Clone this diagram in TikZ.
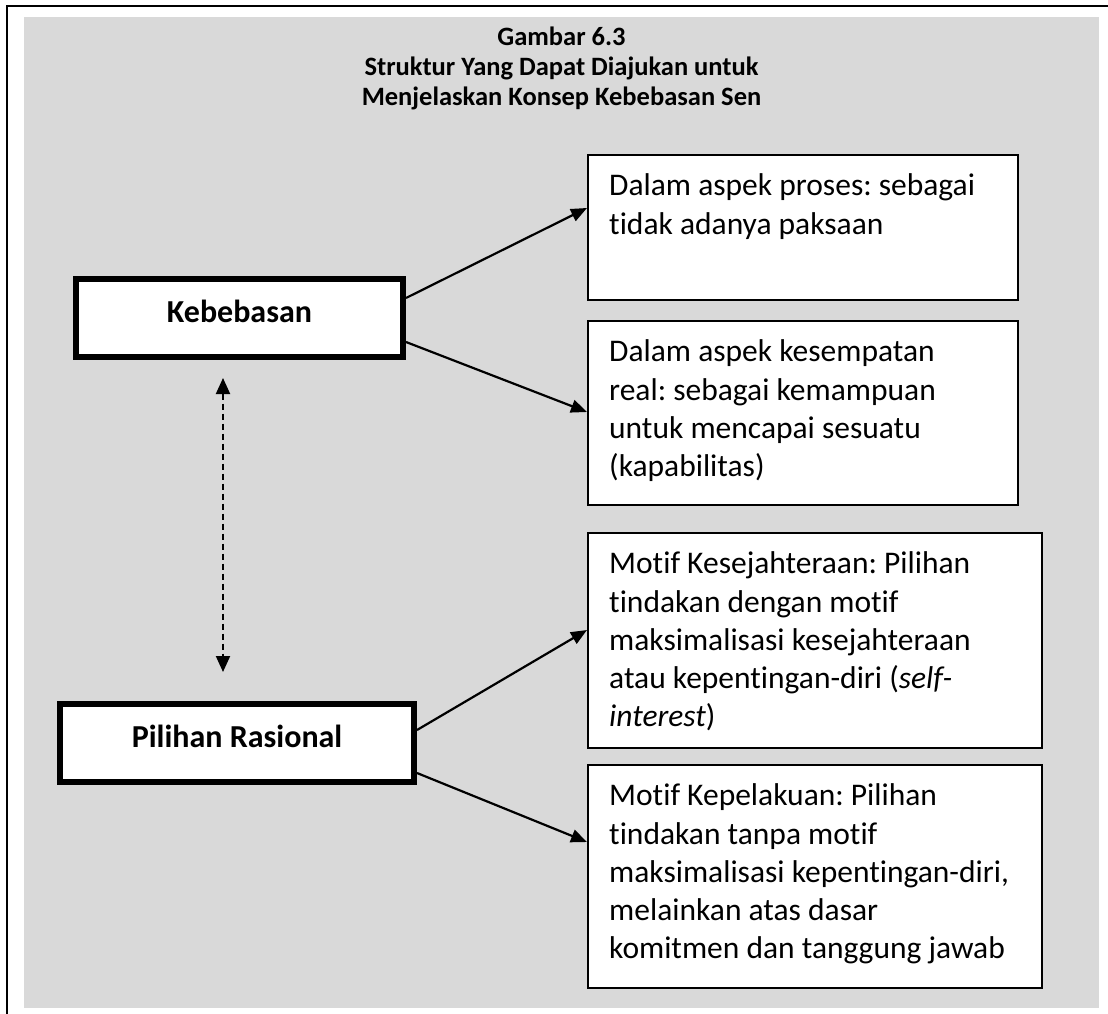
\documentclass[tikz,border=0pt]{standalone}
\usepackage{fontspec}
\setmainfont{Carlito}[Ligatures=NoCommon]
\usetikzlibrary{arrows.meta,calc}
\definecolor{bgGrey}{HTML}{D9D9D9}
\frenchspacing
\begin{document}
\begin{tikzpicture}[x=1pt,y=-1pt,
  frameline/.style={line width=2pt, draw=black},
  mainbox/.style={draw=black, fill=white, line width=6pt, inner sep=0pt,
    font=\bfseries\fontsize{32}{38}\selectfont, text height=22pt, text depth=12.8pt},
  infobox/.style={draw=black, fill=white, line width=1.6pt, inner sep=0pt, anchor=north west},
  infotext/.style={inner sep=0pt, anchor=north west, align=left,
    font=\fontsize{31.5}{38.3}\selectfont},
  titletext/.style={align=center, inner sep=0pt, font=\bfseries\fontsize{26.5}{30}\selectfont},
  link/.style={line width=2.2pt, -{Triangle[length=16pt,width=13pt]}},
  duallink/.style={line width=2pt, dash pattern=on 6pt off 4pt,
    {Triangle[length=16pt,width=14pt]}-{Triangle[length=16pt,width=14pt]}}
]
\useasboundingbox (0,0) rectangle (1108,1014);
% frame and background
\draw[frameline] (7,1014) -- (7,6) -- (1108,6);
\fill[bgGrey] (24,17) rectangle (1099,1008);

% title
\node[titletext] (title) at (561.5,68) {Gambar 6.3\\Struktur Yang Dapat Diajukan untuk\\Menjelaskan Konsep Kebebasan Sen};

% left boxes
\node[mainbox, minimum width=327pt, minimum height=78pt] (kb) at (239.5,318) {Kebebasan};
\node[mainbox, minimum width=354pt, minimum height=78pt] (pr) at (237,743) {Pilihan Rasional};

% right boxes
\node[infobox, minimum width=430pt, minimum height=145pt] (b1) at (587,154) {};
\node[infobox, minimum width=430pt, minimum height=184pt] (b2) at (587,320) {};
\node[infobox, minimum width=454pt, minimum height=215pt] (b3) at (587,532) {};
\node[infobox, minimum width=454pt, minimum height=223pt] (b4) at (587,764) {};

\node[infotext] (t1) at (609,170.5) {\rule{0pt}{25pt}Dalam aspek proses: sebagai\\tidak adanya paksaan};
\node[infotext] (t2) at (609,336.5) {\rule{0pt}{25pt}Dalam aspek kesempatan\\real: sebagai kemampuan\\untuk mencapai sesuatu\\(kapabilitas)};
\node[infotext] (t3) at (609,548.5) {\rule{0pt}{25pt}Motif Kesejahteraan: Pilihan\\tindakan dengan motif\\maksimalisasi kesejahteraan\\atau kepentingan-diri (\textit{self-}\\\textit{interest})};
\node[infotext] (t4) at (609,780.5) {\rule{0pt}{25pt}Motif Kepelakuan: Pilihan\\tindakan tanpa motif\\maksimalisasi kepentingan-diri,\\melainkan atas dasar\\komitmen dan tanggung jawab};

% connectors
\draw[link] ($(kb.east)+(0,-20)$) -- ($(b1.north west)+(0,54)$);
\draw[link] ($(kb.east)+(0,24)$) -- ($(b2.north west)+(0,92)$);
\draw[link] ($(pr.east)+(0,-13)$) -- ($(b3.north west)+(0,98)$);
\draw[link] ($(pr.east)+(0,30)$) -- ($(b4.north west)+(0,78)$);
\draw[duallink] ($(kb.south)+(-16.5,18)$) -- ($(pr.north)+(-14,-29)$);
\end{tikzpicture}
\end{document}
